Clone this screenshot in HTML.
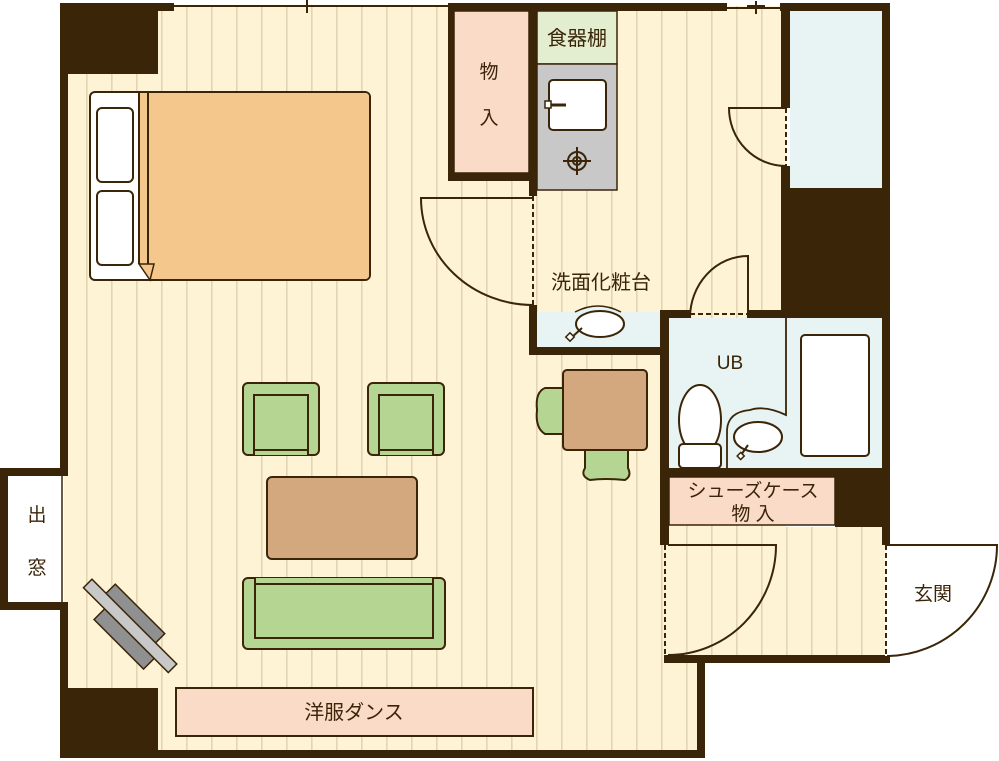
<!DOCTYPE html>
<html><head><meta charset="utf-8"><style>
html,body{margin:0;padding:0;background:#fff;}
svg{display:block;}
text{font-family:"Liberation Sans","Noto Sans CJK JP",sans-serif;fill:#3a2508;}
</style></head><body>
<svg width="999" height="761" viewBox="0 0 999 761" xmlns="http://www.w3.org/2000/svg">
<defs>
<pattern id="st" x="86" y="0" width="25" height="761" patternUnits="userSpaceOnUse">
<rect width="25" height="761" fill="#fff3d6"/>
<rect x="0" width="1.6" height="761" fill="#e3d5b3"/>
</pattern>
</defs>
<rect x="64" y="6" width="722" height="750" fill="url(#st)"/>
<rect x="664" y="527" width="222" height="130" fill="url(#st)"/>
<rect x="705" y="660" width="300" height="110" fill="#fff"/>
<rect x="790" y="6" width="100" height="310" fill="#fff"/>
<rect x="790" y="10" width="92" height="180" fill="#e8f4f4"/>
<rect x="668" y="318" width="214" height="150" fill="#e8f4f4"/>
<rect x="537" y="312" width="125" height="36" fill="#e8f4f4"/>
<g fill="#3a2508">
<rect x="60" y="3" width="114" height="8"/>
<rect x="60" y="3" width="98" height="71"/>
<rect x="60" y="3" width="8" height="468"/>
<rect x="60" y="606" width="8" height="152"/>
<rect x="0" y="468" width="68" height="8"/>
<rect x="0" y="602" width="68" height="8"/>
<rect x="0" y="468" width="8" height="142"/>
<rect x="60" y="688" width="98" height="70"/>
<rect x="60" y="750" width="645" height="8"/>
<rect x="697" y="655" width="8" height="103"/>
<rect x="664" y="655" width="226" height="8"/>
<rect x="448" y="3" width="279" height="8"/>
<rect x="780" y="3" width="110" height="8"/>
<rect x="882" y="3" width="8" height="542"/>
<rect x="781" y="3" width="9" height="105"/>
<rect x="781" y="166" width="9" height="146"/>
<rect x="781" y="188" width="109" height="124"/>
<rect x="448" y="3" width="6" height="178"/>
<rect x="448" y="173" width="89" height="8"/>
<rect x="529" y="3" width="8" height="193"/>
<rect x="529" y="305" width="8" height="50"/>
<rect x="529" y="347" width="139" height="8"/>
<rect x="660" y="310" width="9" height="235"/>
<rect x="660" y="310" width="30" height="8"/>
<rect x="748" y="310" width="142" height="8"/>
<rect x="660" y="468" width="230" height="9"/>
<rect x="835" y="468" width="55" height="59"/>
</g>
<line x1="174" y1="6" x2="448" y2="6" stroke="#3a2508" stroke-width="2"/>
<line x1="307" y1="0" x2="307" y2="13" stroke="#3a2508" stroke-width="2"/>
<line x1="298" y1="6" x2="316" y2="6" stroke="#3a2508" stroke-width="2"/>
<line x1="727" y1="8" x2="781" y2="8" stroke="#3a2508" stroke-width="2"/>
<line x1="756" y1="1" x2="756" y2="14" stroke="#3a2508" stroke-width="2"/>
<line x1="747" y1="6" x2="765" y2="6" stroke="#3a2508" stroke-width="2"/>
<rect x="8" y="476" width="54" height="126" fill="#fff"/>
<line x1="62" y1="476" x2="62" y2="602" stroke="#3a2508" stroke-width="1.5"/>
<text x="37" y="521" font-size="19" text-anchor="middle">出</text>
<text x="37" y="574" font-size="19" text-anchor="middle">窓</text>
<g stroke="#3a2508" stroke-width="2" stroke-dasharray="5,3" fill="none">
<line x1="533" y1="196" x2="533" y2="305"/>
<line x1="786" y1="108" x2="786" y2="166"/>
<line x1="690" y1="314" x2="748" y2="314"/>
<line x1="665" y1="545" x2="665" y2="655"/>
<line x1="886" y1="545" x2="886" y2="655"/>
</g>
<g stroke="#3a2508" stroke-width="2" fill="none">
<path d="M533,198 L421,198 A112,107 0 0 0 533,305"/>
<path d="M786,108 L729,108 A57,58 0 0 0 786,166"/>
<path d="M748,318 L748,256 A58,62 0 0 0 690,318"/>
<path d="M668,545 L776,545 A108,110 0 0 1 668,655"/>
</g>
<path d="M886,545 L997,545 A111,111 0 0 1 886,656 Z" fill="#fff" stroke="#3a2508" stroke-width="2"/>
<line x1="886" y1="545" x2="886" y2="656" stroke="#fff" stroke-width="2"/>
<line x1="886" y1="545" x2="886" y2="656" stroke="#3a2508" stroke-width="2" stroke-dasharray="5,3"/>
<text x="933" y="600" font-size="19" text-anchor="middle">玄関</text>
<rect x="454" y="11" width="75" height="162" fill="#fadbc7" stroke="#3a2508" stroke-width="1.5"/>
<text x="489" y="78" font-size="19" text-anchor="middle">物</text>
<text x="489" y="124" font-size="19" text-anchor="middle">入</text>
<rect x="537" y="11" width="80" height="53" fill="#e3edcf" stroke="#3a2508" stroke-width="1.5"/>
<text x="577" y="45" font-size="20" text-anchor="middle">食器棚</text>
<rect x="537" y="64" width="80" height="126" fill="#c8c8c8" stroke="#3a2508" stroke-width="1.5"/>
<rect x="549" y="80" width="57" height="50" rx="4" fill="#fff" stroke="#3a2508" stroke-width="2"/>
<rect x="545" y="101" width="6" height="7" fill="#fff" stroke="#3a2508" stroke-width="1.5"/>
<line x1="551" y1="105" x2="566" y2="105" stroke="#3a2508" stroke-width="3"/>
<g stroke="#3a2508" stroke-width="2" fill="none">
<circle cx="577" cy="161" r="9"/><circle cx="577" cy="161" r="4"/>
<line x1="563" y1="161" x2="591" y2="161"/><line x1="577" y1="147" x2="577" y2="175"/>
</g>
<text x="601" y="289" font-size="20" text-anchor="middle">洗面化粧台</text>
<path d="M575,312 Q598,300 621,312" fill="#e8f4f4" stroke="#3a2508" stroke-width="1.5"/>
<ellipse cx="600" cy="324" rx="24" ry="13" fill="#fff" stroke="#3a2508" stroke-width="2"/>
<line x1="571" y1="338" x2="582" y2="328" stroke="#3a2508" stroke-width="2"/>
<rect x="567" y="334" width="6" height="6" fill="#fff" stroke="#3a2508" stroke-width="1.5" transform="rotate(45 570 337)"/>
<text x="730" y="369" font-size="19" text-anchor="middle">UB</text>
<path d="M786,318 L786,415 Q765,405 750,410 Q728,412 727,430 L727,468" fill="none" stroke="#3a2508" stroke-width="1.8"/>
<rect x="801" y="335" width="68" height="121" rx="4" fill="#fff" stroke="#3a2508" stroke-width="2"/>
<ellipse cx="700" cy="420" rx="21" ry="35" fill="#fff" stroke="#3a2508" stroke-width="2"/>
<rect x="679" y="444" width="42" height="24" rx="4" fill="#fff" stroke="#3a2508" stroke-width="2"/>
<ellipse cx="758" cy="437" rx="24" ry="15" fill="#fff" stroke="#3a2508" stroke-width="2"/>
<line x1="741" y1="455" x2="748" y2="445" stroke="#3a2508" stroke-width="2"/>
<rect x="738" y="453" width="5" height="5" fill="#fff" stroke="#3a2508" stroke-width="1.5" transform="rotate(45 740 456)"/>
<rect x="669" y="477" width="166" height="48" fill="#fadbc7" stroke="#3a2508" stroke-width="1.5"/>
<text x="753" y="497" font-size="19" text-anchor="middle">シューズケース</text>
<text x="753" y="520" font-size="19" text-anchor="middle">物 入</text>
<rect x="90" y="92" width="280" height="188" rx="5" fill="#fff" stroke="#3a2508" stroke-width="2"/>
<path d="M139,93 L365,93 Q369,93 369,97 L369,275 Q369,279 365,279 L150,279 L139,264 Z" fill="#f4c78d"/>
<rect x="97" y="108" width="36" height="74" rx="5" fill="#fff" stroke="#3a2508" stroke-width="2"/>
<rect x="97" y="191" width="36" height="74" rx="5" fill="#fff" stroke="#3a2508" stroke-width="2"/>
<line x1="139" y1="92" x2="139" y2="264" stroke="#3a2508" stroke-width="2"/>
<line x1="148" y1="92" x2="148" y2="264" stroke="#3a2508" stroke-width="2"/>
<path d="M139,264 L154,264 L150,280 Z" fill="#f4c78d" stroke="#3a2508" stroke-width="1.5"/>
<g fill="#b5d593" stroke="#3a2508" stroke-width="2">
<rect x="243" y="383" width="76" height="72" rx="5"/>
<path d="M254,455 L254,395 L308,395 L308,455" />
<line x1="254" y1="450" x2="308" y2="450"/>
<rect x="368" y="383" width="76" height="72" rx="5"/>
<path d="M379,455 L379,395 L433,395 L433,455"/>
<line x1="379" y1="450" x2="433" y2="450"/>
<rect x="243" y="578" width="202" height="71" rx="5"/>
<path d="M255,578 L255,638 L433,638 L433,578"/>
<line x1="255" y1="584" x2="433" y2="584"/>
</g>
<rect x="267" y="477" width="150" height="82" rx="5" fill="#d4a87e" stroke="#3a2508" stroke-width="2"/>
<path d="M563,388 L545,388 Q535,392 537,410 Q535,428 545,434 L563,434 Z" fill="#b5d593" stroke="#3a2508" stroke-width="2"/>
<path d="M585,450 L585,468 Q580,476 590,480 Q605,478 625,480 Q632,476 628,468 L628,450 Z" fill="#b5d593" stroke="#3a2508" stroke-width="2"/>
<rect x="563" y="370" width="84" height="80" rx="4" fill="#d4a87e" stroke="#3a2508" stroke-width="2"/>
<g transform="rotate(45 128 628)" stroke="#3a2508" stroke-width="1.5">
<rect x="98" y="630" width="70" height="16" fill="#909090"/>
<rect x="88" y="606" width="70" height="14" fill="#909090"/>
<rect x="68" y="619" width="120" height="12" fill="#c8c8c8"/>
</g>
<rect x="176" y="688" width="357" height="48" fill="#fadbc7" stroke="#3a2508" stroke-width="2"/>
<text x="354" y="719" font-size="20" text-anchor="middle">洋服ダンス</text>
</svg>
</body></html>
